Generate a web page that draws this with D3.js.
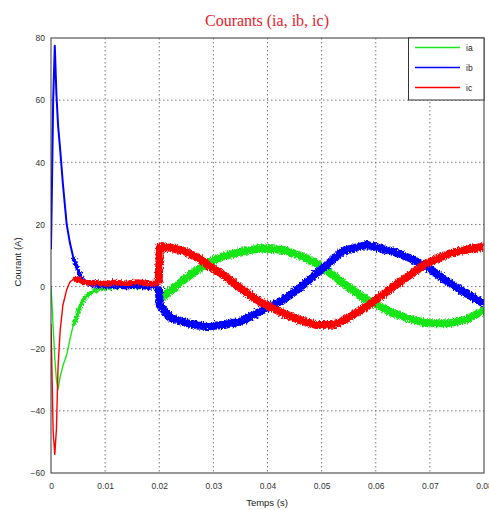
<!DOCTYPE html>
<html>
<head>
<meta charset="utf-8">
<script src="https://cdn.jsdelivr.net/npm/d3@7"></script>
<style>
  body { margin: 0; background: #fff; }
  svg { display: block; }
  .tick text { font-family: "Liberation Sans", Arial, sans-serif; font-size: 8.5px; fill: #333; }
</style>
</head>
<body>
<svg id="chart" width="489" height="510"></svg>
<script>
// time axis (s) and the three phase currents (A)
var temps = [0, 0.0002, 0.0004, 0.0007, 0.001, 0.0013, 0.0017, 0.0022, 0.0029, 0.0035,
  0.0041, 0.0047, 0.0054, 0.006, 0.0066, 0.0075, 0.0085, 0.01, 0.012, 0.014,
  0.016, 0.018, 0.0199, 0.0201, 0.022, 0.0245, 0.027, 0.0294, 0.032, 0.035,
  0.0386, 0.0429, 0.046, 0.0491, 0.052, 0.054, 0.0583, 0.0633, 0.0665, 0.0694,
  0.0737, 0.077, 0.08]
var ia = [0, -6, -13, -23, -30, -33, -29, -25.5, -22, -17,
  -12.5, -9.7, -6.5, -4.3, -3, -1.8, -1, -0.5, -0.3, 0,
  -0.3, 0, -0.5, -4, -1.5, 2.1, 5.3, 8, 9.8, 11.2,
  12.3, 11.8, 10, 7.5, 3.8, 1.1, -4.3, -8.6, -10.5, -11.8,
  -11.8, -10.5, -7.5]
var ib = [12, 35, 60, 77.5, 62, 52, 44, 33, 20, 14,
  9.5, 6.5, 3.5, 2, 1.2, 0.5, 0.2, 0, 0, -0.3,
  0, -0.5, 0, -6, -10, -11.5, -12.5, -12.8, -12.3, -11.3,
  -8.1, -4.3, -0.3, 4.3, 8.5, 11.5, 13.4, 11.2, 9, 6.4,
  1.1, -2.5, -5.5]
var ic = [-12, -29, -47, -54, -46, -26, -14, -6, -1, 1.5,
  2.2, 2.5, 2, 1.5, 1.3, 1.2, 1.2, 1, 1.3, 1,
  1.5, 1, 1, 12.8, 12.5, 11.5, 9.5, 6.4, 3.5, -0.5,
  -4.9, -8.6, -10.8, -12.4, -12.3, -11, -6.5, 0, 4, 7.5,
  10.7, 12, 12.8]

var xTicks = [0, 0.01, 0.02, 0.03, 0.04, 0.05, 0.06, 0.07, 0.08]
var yTicks = [-60, -40, -20, 0, 20, 40, 60, 80]
var seriesNames = ['ia', 'ib', 'ic']
var seriesColors = ['#19e619', '#0000ff', '#ff0000']

var svg = d3.select('#chart')
var pLeft = 51, pRight = 484, pTop = 38, pBottom = 473

var x = d3.scaleLinear().domain([0, 0.08]).range([pLeft, pRight])
var y = d3.scaleLinear().domain([-60, 80]).range([pBottom, pTop])

// noisy look of the measured signals
var defs = svg.append('defs')
defs.append('clipPath').attr('id', 'plotclip')
  .append('rect').attr('x', pLeft).attr('y', pTop).attr('width', pRight - pLeft).attr('height', pBottom - pTop)
var filt = defs.append('filter').attr('id', 'noise')
  .attr('filterUnits', 'userSpaceOnUse')
  .attr('x', pLeft - 10).attr('y', pTop - 10).attr('width', pRight - pLeft + 20).attr('height', pBottom - pTop + 20)
filt.append('feTurbulence').attr('type', 'fractalNoise').attr('baseFrequency', '1.2 0.5')
  .attr('numOctaves', 1).attr('seed', 3).attr('result', 'turb')
filt.append('feDisplacementMap').attr('in', 'SourceGraphic').attr('in2', 'turb')
  .attr('scale', 6).attr('xChannelSelector', 'R').attr('yChannelSelector', 'G')

// grid
svg.append('g').selectAll('line.gx').data(xTicks.slice(1, -1)).enter().append('line')
  .attr('x1', d => x(d)).attr('x2', d => x(d)).attr('y1', pTop).attr('y2', pBottom)
  .attr('stroke', '#555').attr('stroke-width', 0.8).attr('stroke-dasharray', '1.5,2.5')
svg.append('g').selectAll('line.gy').data(yTicks.slice(1, -1)).enter().append('line')
  .attr('x1', pLeft).attr('x2', pRight).attr('y1', d => y(d)).attr('y2', d => y(d))
  .attr('stroke', '#555').attr('stroke-width', 0.8).attr('stroke-dasharray', '1.5,2.5')

// axes labels
svg.append('g').attr('transform', 'translate(' + pLeft + ',0)')
  .call(d3.axisLeft(y).tickValues(yTicks).tickSize(0).tickPadding(6).tickFormat(d3.format('d')))
  .call(g => g.select('.domain').remove())
svg.append('g').attr('transform', 'translate(0,' + pBottom + ')')
  .call(d3.axisBottom(x).tickValues(xTicks).tickSize(0).tickPadding(10).tickFormat(d => d === 0 ? '0' : d3.format('.2f')(d)))
  .call(g => g.select('.domain').remove())

var line = d3.line().x(d => x(d[0])).y(d => y(d[1]))
var plot = svg.append('g').attr('clip-path', 'url(#plotclip)')
var allSeries = [ia, ib, ic]

// pieces: start transient thin, then noisy bands
var pieces = [
  { from: 0, to: 0.0047, width: [1.4, 2, 1.4], noisy: false },
  { from: 0.0041, to: 0.0199, width: [4, 4, 5.5], noisy: true },
  { from: 0.0199, to: 0.08, width: [8, 8, 8], noisy: true }
]
allSeries.forEach(function (vals, i) {
  pieces.forEach(function (p) {
    var pts = temps.map((t, k) => [t, vals[k]]).filter(d => d[0] >= p.from && d[0] <= p.to)
    plot.append('path')
      .datum(pts)
      .attr('d', line)
      .attr('fill', 'none')
      .attr('stroke', seriesColors[i])
      .attr('stroke-width', p.width[i])
      .attr('stroke-linejoin', 'round')
      .attr('filter', p.noisy ? 'url(#noise)' : null)
  })
})

// frame
svg.append('rect').attr('x', pLeft).attr('y', pTop).attr('width', pRight - pLeft).attr('height', pBottom - pTop)
  .attr('fill', 'none').attr('stroke', '#333').attr('stroke-width', 1)

// legend
var lg = svg.append('g')
lg.append('rect').attr('x', 408.5).attr('y', pTop).attr('width', pRight - 408.5).attr('height', 62)
  .attr('fill', '#fff').attr('stroke', '#333').attr('stroke-width', 1)
seriesNames.forEach(function (name, i) {
  var ly = 47.5 + i * 20
  lg.append('line').attr('x1', 415).attr('x2', 460).attr('y1', ly).attr('y2', ly)
    .attr('stroke', seriesColors[i]).attr('stroke-width', 1.5)
  lg.append('text').attr('x', 466).attr('y', ly + 3).text(name)
    .style('font-family', '"Liberation Sans", Arial, sans-serif').style('font-size', '8.5px').attr('fill', '#222')
})

// titles
svg.append('text').attr('x', 267).attr('y', 26).attr('text-anchor', 'middle')
  .text('Courants (ia, ib, ic)')
  .style('font-family', '"Liberation Serif", "Times New Roman", serif').style('font-size', '16px').attr('fill', '#e8202a')
svg.append('text').attr('x', 267).attr('y', 506).attr('text-anchor', 'middle')
  .text('Temps (s)')
  .style('font-family', '"Liberation Sans", Arial, sans-serif').style('font-size', '9.5px').attr('fill', '#222')
svg.append('text').attr('transform', 'translate(21,262) rotate(-90)').attr('text-anchor', 'middle')
  .text('Courant (A)')
  .style('font-family', '"Liberation Sans", Arial, sans-serif').style('font-size', '9.5px').attr('fill', '#222')
</script>
</body>
</html>
